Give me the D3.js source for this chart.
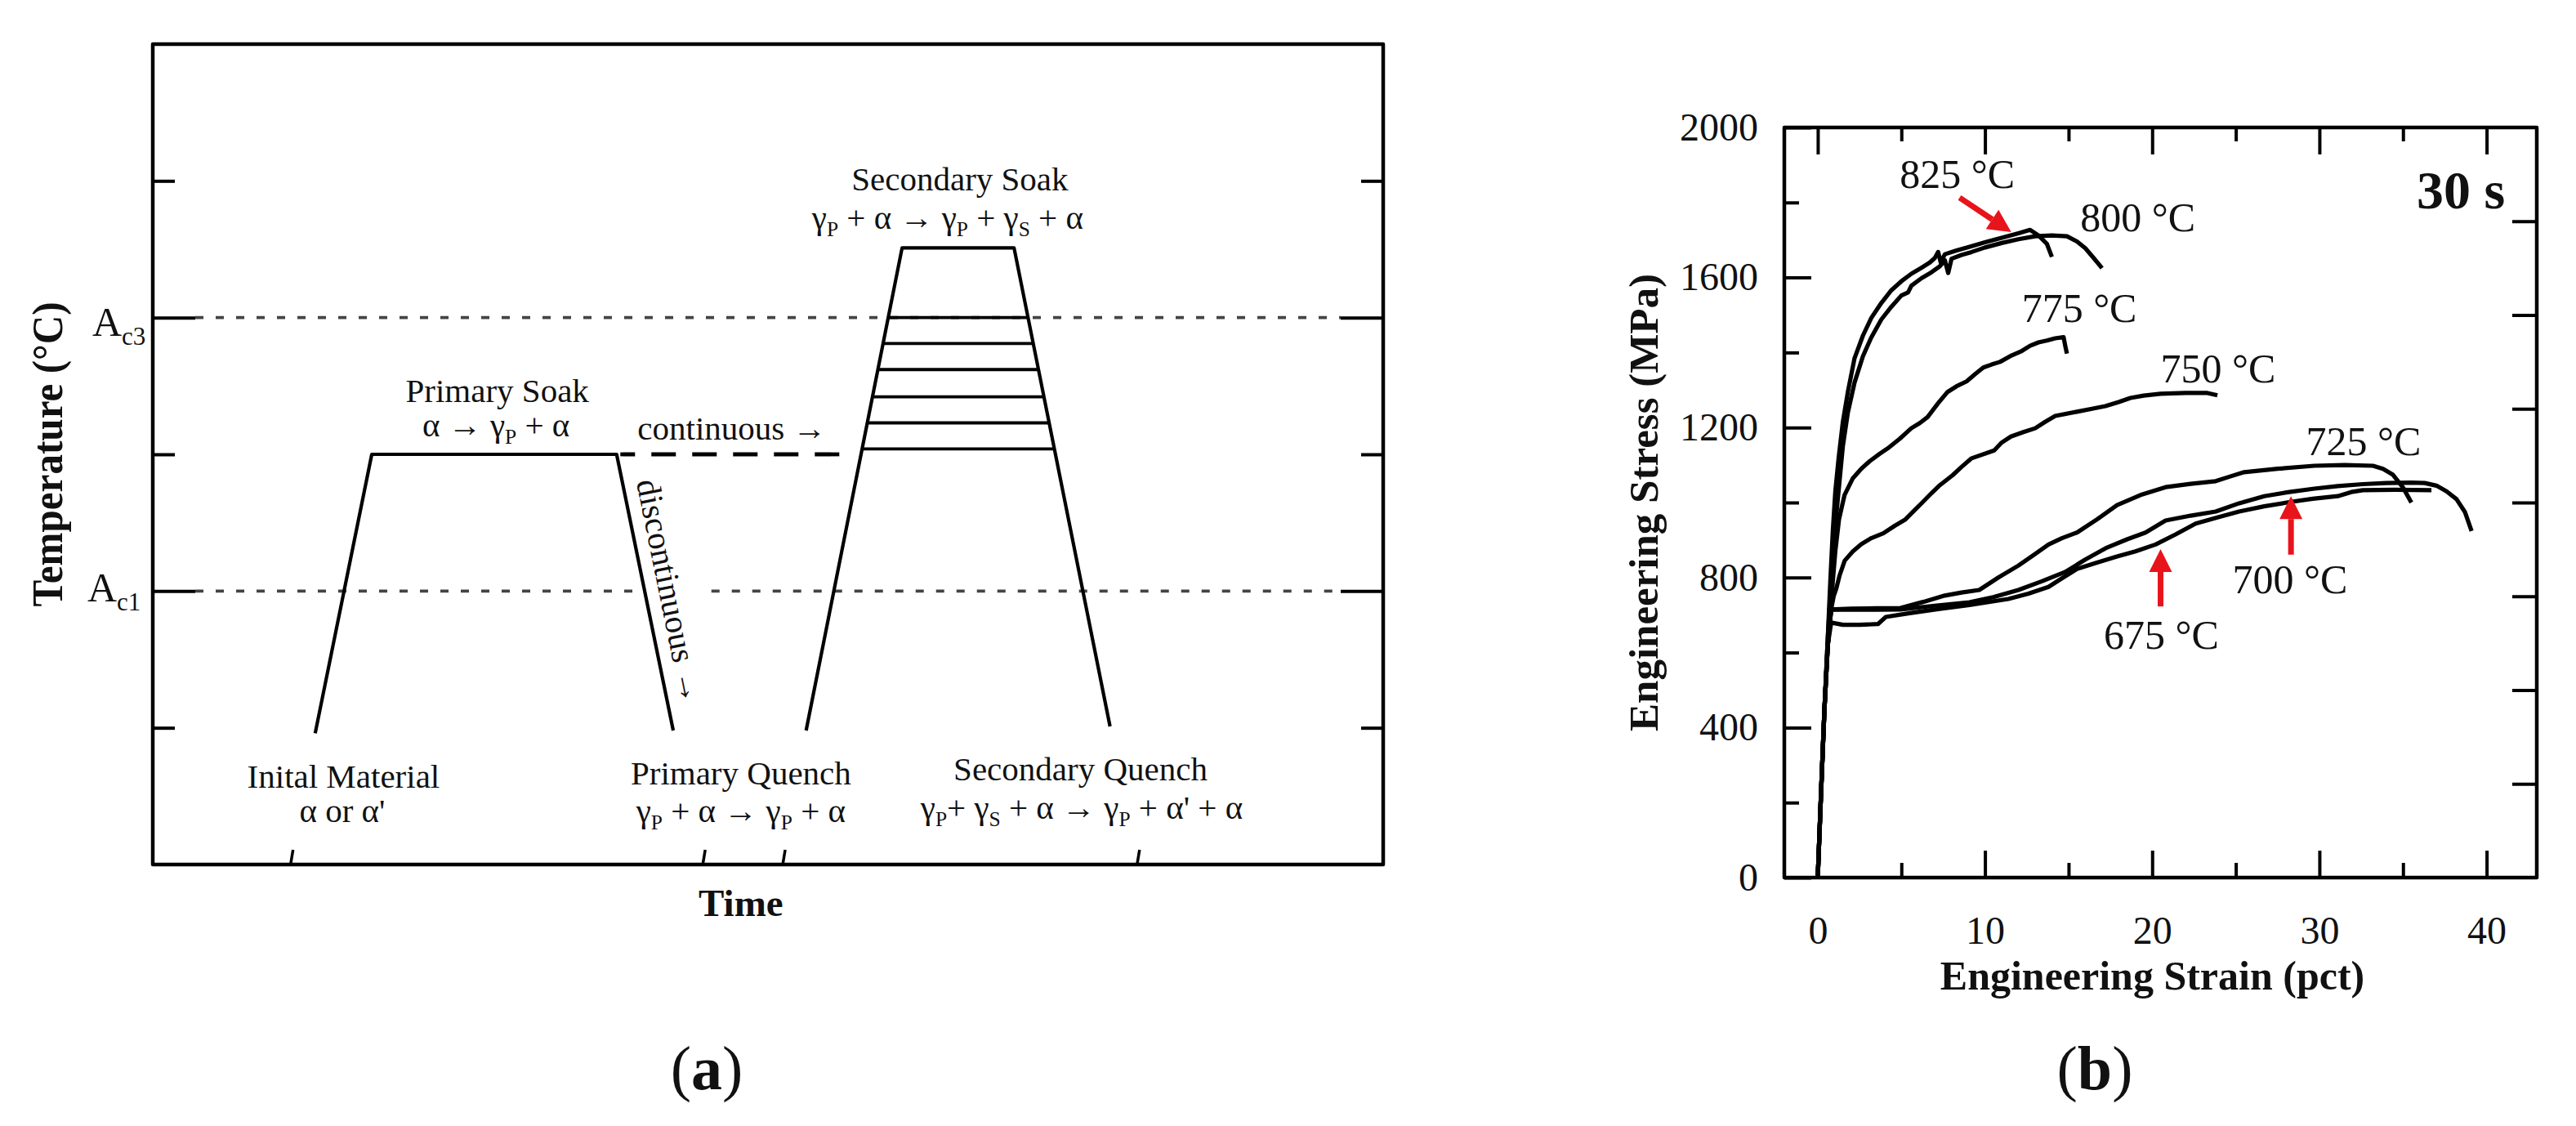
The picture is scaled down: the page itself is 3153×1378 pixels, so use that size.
<!DOCTYPE html>
<html>
<head>
<meta charset="utf-8">
<script src="https://d3js.org/d3.v7.min.js"></script>
<style>
  body { margin: 0; background: #fff; }
  svg { display: block; }
  text { font-family: "Liberation Serif", "Times New Roman", serif; fill: #111; white-space: pre; }
  .ink { stroke: #000; fill: none; stroke-linejoin: round; stroke-linecap: butt; }
  .tick line { stroke: #000; stroke-width: 4; }
  .tick text { font-size: 48px; fill: #111; }
</style>
</head>
<body>
<svg id="chart"></svg>
<script>
// ---------- panel (a) : schematic heat treatment ----------
// time in arbitrary units 0..10, temperature in arbitrary units 0..6
var primaryCycle   = [[1.32, 0.96], [1.78, 3.0], [3.77, 3.0], [4.23, 0.98]];
var secondaryCycle = [[5.31, 0.98], [6.09, 4.51], [7.00, 4.51], [7.78, 1.01]];
var soakLevels     = [4.0, 3.81, 3.62, 3.42, 3.23, 3.04];
var continuousPath = [[3.80, 3.0], [5.70, 3.0]];
var Ac1 = 2, Ac3 = 4;
var tempTicks = [1, 3, 5];
var timeTicks = [1.12, 4.47, 5.12, 8.0];
var ac1Gap = [3.90, 4.54];

// ---------- panel (b) : engineering stress-strain, 30 s ----------
var curve825 = [[0,0],[0.2,230],[0.4,450],[0.6,640],[0.75,790],[0.9,925],[1.05,1030],[1.25,1120],[1.5,1215],
  [1.8,1295],[2.2,1385],[2.7,1445],[3.2,1492],[3.8,1532],[4.4,1566],[5.0,1590],[5.6,1610],[6.2,1626],[6.7,1640],
  [7.0,1652],[7.2,1668],[7.35,1640],[7.6,1662],[8.3,1672],[9.0,1681],[10,1694],[11,1706],[12,1718],[12.7,1727],
  [13.2,1712],[13.7,1690],[14.0,1655]];
var curve800 = [[0,0],[0.2,230],[0.4,450],[0.6,640],[0.8,790],[1.0,915],[1.2,1010],[1.5,1150],[1.8,1240],
  [2.2,1320],[2.7,1390],[3.2,1440],[3.8,1488],[4.4,1522],[5.0,1552],[5.4,1560],[5.6,1578],[6.2,1598],[6.8,1614],
  [7.3,1630],[7.6,1646],[7.8,1612],[8.0,1650],[8.6,1660],[9.2,1668],[10,1680],[11,1692],[12,1702],[13,1710],
  [14,1712],[14.9,1710],[15.5,1696],[16,1678],[16.5,1652],[17.0,1625]];
var curve775 = [[0,0],[0.2,230],[0.4,450],[0.6,620],[0.8,720],[0.9,790],[1.05,870],[1.27,955],[1.6,1020],
  [2.1,1065],[2.6,1090],[3.1,1110],[3.7,1130],[4.26,1147],[4.9,1170],[5.59,1198],[6.1,1212],[6.57,1228],
  [7.2,1265],[7.74,1294],[8.3,1310],[8.9,1323],[9.4,1342],[9.9,1360],[10.4,1368],[10.9,1375],[11.5,1390],
  [12.2,1404],[12.7,1418],[13.2,1427],[13.7,1432],[14.2,1438],[14.7,1441],[14.8,1418],[14.9,1397]];
var curve750 = [[0,0],[0.2,230],[0.4,450],[0.6,620],[0.8,715],[0.95,750],[1.11,771],[1.3,805],[1.61,845],
  [2.1,870],[2.6,889],[3.2,905],[3.92,918],[4.6,938],[5.24,955],[5.8,980],[6.25,1000],[6.8,1025],[7.24,1044],
  [8.07,1073],[8.6,1095],[9.2,1118],[10.55,1139],[11.0,1160],[11.55,1176],[12.3,1188],[13.0,1198],[13.6,1215],
  [14.2,1231],[15.5,1242],[16.4,1250],[17.2,1257],[18,1268],[18.7,1279],[19.5,1285],[20.5,1290],[22,1292],
  [23.3,1292],[23.9,1286]];
var curve725 = [[0,0],[0.2,230],[0.4,450],[0.6,620],[0.8,715],[2,717],[3.5,718],[4.95,719],[6.3,735],
  [7.6,752],[8.6,760],[9.66,767],[10.8,800],[12.0,832],[12.9,860],[13.8,888],[14.6,905],[15.5,920],[16.7,955],
  [17.9,993],[19.3,1020],[20.8,1041],[22.3,1050],[23.8,1057],[24.7,1070],[25.5,1081],[27.5,1090],[29.7,1098],
  [31.5,1100],[33.2,1098],[33.8,1090],[34.4,1074],[35.0,1040],[35.5,1000]];
var curve700 = [[0,0],[0.2,230],[0.4,450],[0.6,620],[0.8,715],[2,714],[3.5,714],[4.95,715],[7.0,725],
  [9.07,734],[10.5,748],[12.0,767],[13.4,790],[14.8,815],[16.0,848],[17.3,880],[18.5,902],[19.6,920],
  [20.8,952],[22.3,965],[23.8,976],[25.2,998],[26.7,1017],[28.2,1028],[29.7,1037],[31.1,1044],[32.6,1049],
  [34.0,1052],[35.5,1053],[36.3,1052],[37.0,1045],[37.6,1030],[38.2,1009],[38.7,975],[39.1,924]];
var curve675 = [[0,0],[0.2,230],[0.4,450],[0.6,620],[0.8,680],[1.5,674],[2.5,674],[3.6,676],[4.07,695],
  [5.5,705],[7.2,716],[9.07,727],[11.4,743],[12.6,757],[13.8,775],[14.6,798],[15.5,823],[16.7,840],
  [17.9,856],[19.0,870],[20.2,888],[21.4,915],[22.6,944],[23.9,960],[25.2,976],[26.7,990],[28.2,1001],
  [29.6,1010],[31.1,1017],[31.9,1028],[32.6,1033],[34.5,1034],[36.7,1033]];
var curves = [curve825, curve800, curve775, curve750, curve725, curve700, curve675];

var curveLabels = [["825 °C", 4.9, 1839], ["800 °C", 15.7, 1723], ["775 °C", 12.2, 1481],
                   ["750 °C", 20.5, 1320], ["725 °C", 29.2, 1126], ["700 °C", 24.8, 758],
                   ["675 °C", 17.1, 610]];
var arrows = [{from: [8.48, 1813], to: [11.57, 1721]},
              {from: [20.5, 723],  to: [20.5, 876]},
              {from: [28.3, 861],  to: [28.3, 1017]}];
var stressMajor = [0, 400, 800, 1200, 1600, 2000];
var stressMinor = [200, 600, 1000, 1400, 1800];
var stressRight = [250, 500, 750, 1000, 1250, 1500, 1750];
var strainMajor = [0, 10, 20, 30, 40];
var strainMinor = [5, 15, 25, 35];

var W = 3153, H = 1378;
var svg = d3.select("#chart").attr("width", W).attr("height", H);
svg.append("rect").attr("width", W).attr("height", H).attr("fill", "#fff");

// rich text with subscripts: parts starting with "_" are subscripts
function richText(g, x, y, parts, size, anchor) {
  var t = g.append("text").attr("x", x).attr("y", y)
    .attr("font-size", size).attr("text-anchor", anchor || "middle");
  var down = false;
  parts.forEach(function(p) {
    var sub = p.charAt(0) == "_";
    var ts = t.append("tspan").text(sub ? p.slice(1) : p);
    if (sub) {
      ts.attr("font-size", size * 0.62);
      if (!down) { ts.attr("dy", size * 0.22); down = true; }
    } else if (down) {
      ts.attr("dy", -size * 0.22); down = false;
    }
  });
  return t;
}

// ================= panel (a) =================
var tA = d3.scaleLinear().domain([0, 10]).range([187, 1693]);
var TA = d3.scaleLinear().domain([0, 6]).range([1058, 54]);
var ga = svg.append("g");

// dashed critical temperatures
[[Ac3, [[0, 10]]], [Ac1, [[0, ac1Gap[0]], [ac1Gap[1], 10]]]].forEach(function(d) {
  d[1].forEach(function(seg) {
    ga.append("line")
      .attr("x1", Math.max(tA(seg[0]), tA(0) + 52)).attr("x2", Math.min(tA(seg[1]), tA(10) - 52))
      .attr("y1", TA(d[0])).attr("y2", TA(d[0]))
      .attr("stroke", "#444").attr("stroke-width", 3.8).attr("stroke-dasharray", "10,15");
  });
});

// temperature ticks, left and right
[[d3.axisLeft, tA(0), tempTicks, -27], [d3.axisLeft, tA(0), [Ac1, Ac3], -52],
 [d3.axisRight, tA(10), tempTicks, -27], [d3.axisRight, tA(10), [Ac1, Ac3], -52]].forEach(function(a) {
  var ax = ga.append("g").attr("transform", "translate(" + a[1] + ",0)")
    .call(a[0](TA).tickValues(a[2]).tickSize(a[3]).tickFormat(""));
  ax.select(".domain").remove();
});

// slanted time ticks
ga.selectAll(".tt").data(timeTicks).enter().append("line")
  .attr("class", "ink").attr("stroke-width", 3.5)
  .attr("x1", function(d) { return tA(d); }).attr("y1", TA(0))
  .attr("x2", function(d) { return tA(d) + 3; }).attr("y2", TA(0) - 18);

var lineA = d3.line().x(function(d) { return tA(d[0]); }).y(function(d) { return TA(d[1]); });
ga.append("path").attr("class", "ink").attr("stroke-width", 4.2).attr("d", lineA(primaryCycle));
ga.append("path").attr("class", "ink").attr("stroke-width", 4.2).attr("d", lineA(secondaryCycle));
ga.append("path").attr("class", "ink").attr("stroke-width", 4.8)
  .attr("stroke-dasharray", "30,20").attr("stroke-dashoffset", 12).attr("d", lineA(continuousPath));

// partial secondary soak levels, between the two ramps
function rampX(p, q, T) { return p[0] + (T - p[1]) / (q[1] - p[1]) * (q[0] - p[0]); }
ga.selectAll(".lvl").data(soakLevels).enter().append("line")
  .attr("class", "ink").attr("stroke-width", 3.8)
  .attr("x1", function(d) { return tA(rampX(secondaryCycle[0], secondaryCycle[1], d)); })
  .attr("x2", function(d) { return tA(rampX(secondaryCycle[2], secondaryCycle[3], d)); })
  .attr("y1", function(d) { return TA(d); }).attr("y2", function(d) { return TA(d); });

ga.append("rect").attr("class", "ink").attr("stroke-width", 4.5)
  .attr("x", tA(0)).attr("y", TA(6)).attr("width", tA(10) - tA(0)).attr("height", TA(0) - TA(6));

// annotations
var fa = 41;
ga.append("text").attr("x", tA(6.56)).attr("y", TA(4.93)).attr("font-size", fa)
  .attr("text-anchor", "middle").text("Secondary Soak");
richText(ga, tA(6.46), TA(4.65), ["γ", "_P", " + α → γ", "_P", " + γ", "_S", " + α"], fa);
ga.append("text").attr("x", tA(2.80)).attr("y", TA(3.38)).attr("font-size", fa)
  .attr("text-anchor", "middle").text("Primary Soak");
richText(ga, tA(2.79), TA(3.13), ["α → γ", "_P", " + α"], fa);
ga.append("text").attr("x", tA(3.94)).attr("y", TA(3.11)).attr("font-size", fa).text("continuous →");
ga.append("text").attr("font-size", fa)
  .attr("transform", "translate(" + tA(3.93) + "," + TA(2.80) + ") rotate(78.5)")
  .text("discontinuous →");
ga.append("text").attr("x", tA(1.55)).attr("y", TA(0.56)).attr("font-size", fa)
  .attr("text-anchor", "middle").text("Inital Material");
ga.append("text").attr("x", tA(1.54)).attr("y", TA(0.31)).attr("font-size", fa)
  .attr("text-anchor", "middle").text("α or α'");
ga.append("text").attr("x", tA(4.78)).attr("y", TA(0.585)).attr("font-size", fa)
  .attr("text-anchor", "middle").text("Primary Quench");
richText(ga, tA(4.78), TA(0.31), ["γ", "_P", " + α → γ", "_P", " + α"], fa);
ga.append("text").attr("x", tA(7.54)).attr("y", TA(0.615)).attr("font-size", fa)
  .attr("text-anchor", "middle").text("Secondary Quench");
richText(ga, tA(7.55), TA(0.335), ["γ", "_P", "+ γ", "_S", " + α → γ", "_P", " + α' + α"], fa);

ga.append("text").attr("x", tA(4.78)).attr("y", TA(-0.376)).attr("font-size", 47)
  .attr("font-weight", "bold").attr("text-anchor", "middle").text("Time");
ga.append("text").attr("font-size", 52).attr("font-weight", "bold").attr("text-anchor", "middle")
  .attr("textLength", 373).attr("lengthAdjust", "spacingAndGlyphs")
  .attr("transform", "translate(" + (tA(0) - 111) + "," + TA(3.0) + ") rotate(-90)")
  .text("Temperature (°C)");
richText(ga, tA(0) - 74, TA(Ac3) + 22, ["A", "_c3"], 50, "start");
richText(ga, tA(0) - 80, TA(Ac1) + 13, ["A", "_c1"], 50, "start");

var la = ga.append("text").attr("x", 865).attr("y", 1333).attr("font-size", 76).attr("text-anchor", "middle");
la.append("tspan").text("(");
la.append("tspan").attr("font-weight", "bold").text("a");
la.append("tspan").text(")");

// ================= panel (b) =================
var x = d3.scaleLinear().domain([-2, 43]).range([2184, 3105]);
var y = d3.scaleLinear().domain([0, 2000]).range([1074, 156]);
var gb = svg.append("g");

function axis(gen, tx, ty, vals, size, pad, labels) {
  var a = gen.tickValues(vals).tickSize(size);
  if (labels) a.tickPadding(pad).tickFormat(d3.format("d")); else a.tickFormat("");
  var g = gb.append("g").attr("transform", "translate(" + tx + "," + ty + ")").call(a);
  g.select(".domain").remove();
  return g;
}
axis(d3.axisLeft(y), x(-2), 0, stressMajor, -33, 32, true);
axis(d3.axisLeft(y), x(-2), 0, stressMinor, -18, 0, false);
axis(d3.axisRight(y), x(43), 0, stressRight, -30, 0, false);
axis(d3.axisBottom(x), 0, y(0), strainMajor, -33, 47, true);
axis(d3.axisBottom(x), 0, y(0), strainMinor, -18, 0, false);
axis(d3.axisTop(x), 0, y(2000), strainMajor, -33, 0, false);
axis(d3.axisTop(x), 0, y(2000), strainMinor, -17, 0, false);

var line = d3.line().x(function(d) { return x(d[0]); }).y(function(d) { return y(d[1]); });
gb.selectAll(".curve").data(curves).enter().append("path")
  .attr("class", "ink curve").attr("stroke-width", 5.2).attr("d", line);

gb.append("rect").attr("class", "ink").attr("stroke-width", 4.5)
  .attr("x", x(-2)).attr("y", y(2000)).attr("width", x(43) - x(-2)).attr("height", y(0) - y(2000));

gb.selectAll(".clab").data(curveLabels).enter().append("text")
  .attr("font-size", 50)
  .attr("x", function(d) { return x(d[1]); }).attr("y", function(d) { return y(d[2]); })
  .text(function(d) { return d[0]; });

gb.append("text").attr("x", x(41.1)).attr("y", y(1784)).attr("font-size", 66)
  .attr("font-weight", "bold").attr("text-anchor", "end").text("30 s");

// red arrows
arrows.forEach(function(a) {
  var x1 = x(a.from[0]), y1 = y(a.from[1]), x2 = x(a.to[0]), y2 = y(a.to[1]);
  var len = Math.hypot(x2 - x1, y2 - y1), ux = (x2 - x1) / len, uy = (y2 - y1) / len;
  var hl = 28, hw = 14;
  var bx = x2 - ux * hl, by = y2 - uy * hl;
  gb.append("line").attr("x1", x1).attr("y1", y1).attr("x2", bx).attr("y2", by)
    .attr("stroke", "#e8141c").attr("stroke-width", 7);
  gb.append("polygon").attr("fill", "#e8141c")
    .attr("points", [[x2, y2], [bx - uy * hw, by + ux * hw], [bx + uy * hw, by - ux * hw]].join(" "));
});

gb.append("text").attr("x", (x(-2) + x(43)) / 2 - 10).attr("y", 1211).attr("font-size", 50)
  .attr("font-weight", "bold").attr("text-anchor", "middle").text("Engineering Strain (pct)");
gb.append("text").attr("font-size", 51).attr("font-weight", "bold").attr("text-anchor", "middle")
  .attr("transform", "translate(2029,615) rotate(-90)").text("Engineering Stress (MPa)");

var lb = gb.append("text").attr("x", 2564).attr("y", 1333).attr("font-size", 76).attr("text-anchor", "middle");
lb.append("tspan").text("(");
lb.append("tspan").attr("font-weight", "bold").text("b");
lb.append("tspan").text(")");
</script>
</body>
</html>
